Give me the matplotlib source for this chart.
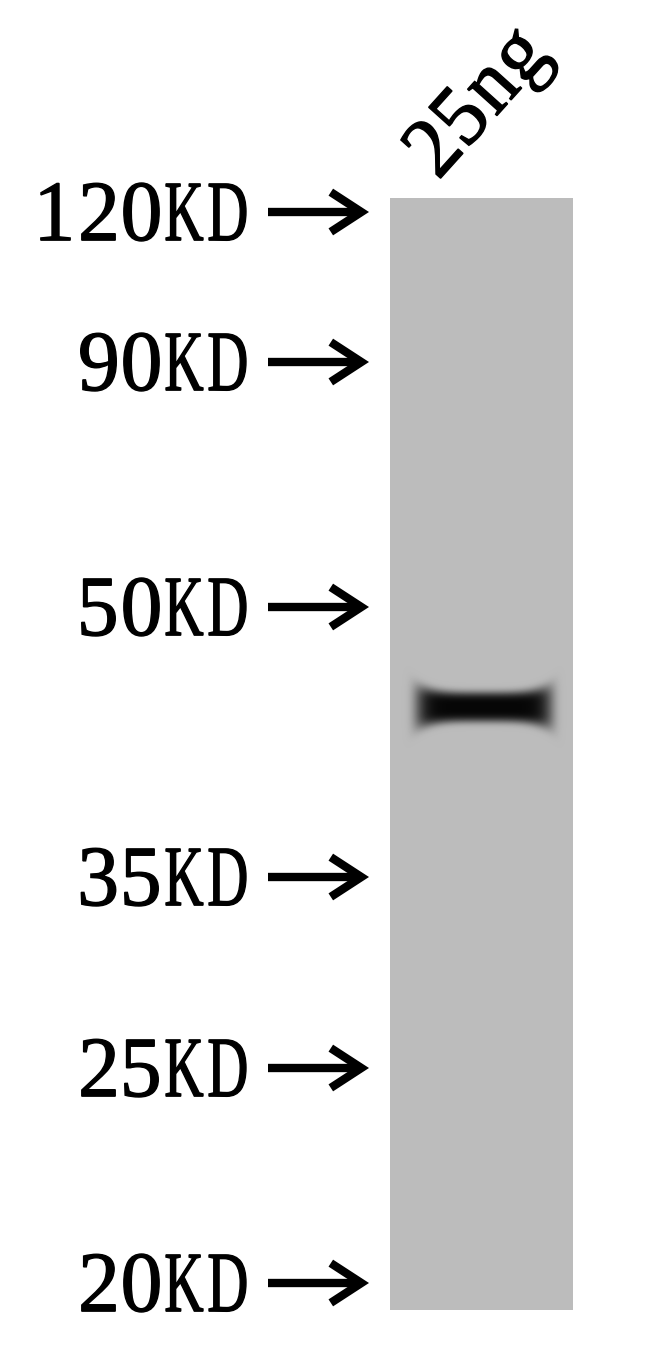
import numpy as np
import matplotlib.pyplot as plt
from matplotlib.transforms import Affine2D
from matplotlib.textpath import TextPath
from matplotlib.patches import PathPatch
from matplotlib.font_manager import FontProperties

# marker ladder (label, migration position in px from top of image)
marker_labels = ['120KD', '90KD', '50KD', '35KD', '25KD', '20KD']
marker_pos = [212, 362, 607, 877, 1068, 1283]

lane_labels = ['25ng']
band_pos = [707]          # detected band, same lane
band_strength = [1.0]

W, H = 650, 1366
lane_x0, lane_x1 = 390, 573
lane_y0, lane_y1 = 198, 1310

fig = plt.figure(figsize=(W / 100, H / 100), dpi=100)
ax = fig.add_axes([0, 0, 1, 1])
ax.set_xlim(0, W)
ax.set_ylim(H, 0)
ax.axis('off')

# lane image: flat grey background plus the band
nx, ny = lane_x1 - lane_x0, lane_y1 - lane_y0
xx, yy = np.meshgrid(np.arange(nx) + 0.5, np.arange(ny) + 0.5)
img = np.full((ny, nx), 0.735)
for by, s in zip(band_pos, band_strength):
    cy = by - lane_y0
    u = (xx - 94.0) / 68.0              # -1 .. 1 across band
    half = 15 + 9 * np.abs(u) ** 4      # thicker at the ends (dumbbell)
    edge = np.exp(-np.abs(u) ** 10)
    prof = np.exp(-((yy - cy) / half) ** 4) * edge
    img = img - s * 0.71 * prof
img = np.clip(img, 0.02, 1)
ax.imshow(img, cmap='gray', vmin=0, vmax=1, extent=(lane_x0, lane_x1, lane_y1, lane_y0),
          interpolation='bilinear', zorder=1)

fp = FontProperties(family='Liberation Serif', size=86)
CELL = 43   # fixed advance, labels are set in a half-width (mono) serif


def put_text(s, x, y, rot=0, ha='right'):
    # lay the glyphs out in fixed cells, squeezing the wide ones
    total = CELL * len(s)
    x0 = {'right': -total, 'left': 0, 'center': -total / 2}[ha]
    cap = TextPath((0, 0), '0', prop=fp).get_extents()
    yc = (cap.y0 + cap.y1) / 2
    for i, ch in enumerate(s):
        tp = TextPath((0, 0), ch, prop=fp)
        bb = tp.get_extents()
        sx = min(0.97, 37.0 / bb.width)
        cx = x0 + CELL * (i + 0.5)
        tr = (Affine2D().translate(-(bb.x0 + bb.x1) / 2, -yc).scale(sx, -1)
              .translate(cx, 0).rotate_deg(-rot).translate(x, y))
        ax.add_patch(PathPatch(tr.transform_path(tp), facecolor='black', edgecolor='black',
                               lw=1.0, zorder=3))


for lab, y in zip(marker_labels, marker_pos):
    put_text(lab, 249, y)
    ax.annotate('', xy=(369, y), xytext=(268, y),
                arrowprops=dict(arrowstyle='->,head_length=1.0,head_width=0.65',
                                mutation_scale=22, lw=6, color='black',
                                shrinkA=0, shrinkB=0, capstyle='butt', joinstyle='miter'))

for lab in lane_labels:
    put_text(lab, 474, 99, rot=48, ha='center')

fig.savefig('out.png', dpi=100)
